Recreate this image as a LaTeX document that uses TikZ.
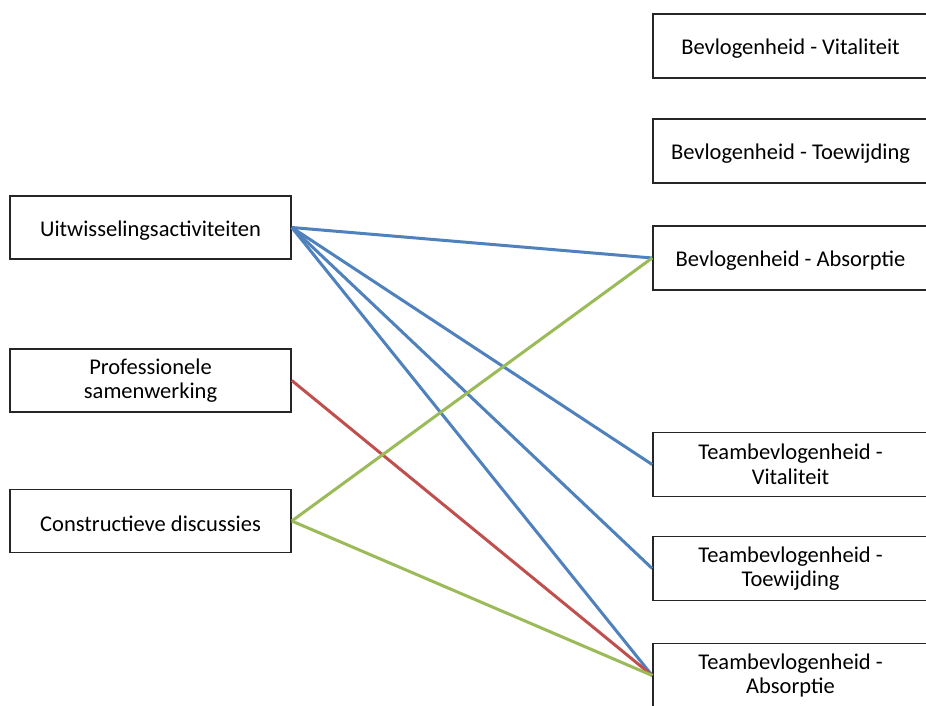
\documentclass[tikz,border=0pt]{standalone}
\usepackage{fontspec}
\setmainfont{Carlito}
\definecolor{lblue}{HTML}{4F81BD}
\definecolor{lred}{HTML}{C0504D}
\definecolor{lgreen}{HTML}{9BBB59}
\newcommand\lowtext[1]{\raisebox{-3pt}[\height][\depth]{#1}}
\begin{document}
\begin{tikzpicture}[x=1pt,y=-1pt,
  box/.style={draw=black!85,line width=1.6pt,fill=white,inner sep=0pt,align=center,font=\fontsize{22.5}{24.5}\selectfont,text=black},
  lbox/.style={box,minimum width=281pt,minimum height=63pt},
  rbox/.style={box,minimum width=275pt,minimum height=64pt},
  link/.style={line width=3pt}]
\useasboundingbox[fill=white] (0,0) rectangle (926,706);
\begin{scope}
\clip (0,0) rectangle (926,706);
\node[lbox] (u) at (150.5,227.5) {\lowtext{Uitwisselingsactiviteiten}};
\node[lbox] (p) at (150.5,380.5) {Professionele\\samenwerking};
\node[lbox] (c) at (150.5,521) {\lowtext{Constructieve discussies}};
\node[rbox] (bv) at (790.5,46) {\lowtext{Bevlogenheid - Vitaliteit}};
\node[rbox] (bt) at (790.5,151) {\lowtext{Bevlogenheid - Toewijding}};
\node[rbox] (ba) at (790.5,258) {\lowtext{Bevlogenheid - Absorptie}};
\node[rbox] (tv) at (790.5,464.5) {Teambevlogenheid -\\Vitaliteit};
\node[rbox] (tt) at (790.5,568.5) {Teambevlogenheid -\\Toewijding};
\node[rbox] (ta) at (790.5,675.5) {Teambevlogenheid -\\Absorptie};
\draw[link,lblue] (u.east) -- (ba.west);
\draw[link,lblue] (u.east) -- (tv.west);
\draw[link,lblue] (u.east) -- (tt.west);
\draw[link,lblue] (u.east) -- (ta.west);
\draw[link,lred] (p.east) -- (ta.west);
\draw[link,lgreen] (c.east) -- (ba.west);
\draw[link,lgreen] (c.east) -- (ta.west);
\end{scope}
\end{tikzpicture}
\end{document}
